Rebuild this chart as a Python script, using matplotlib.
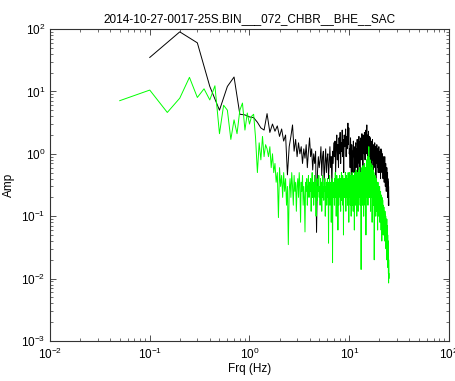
import numpy as np
import matplotlib
matplotlib.use('Agg')
import matplotlib.pyplot as plt
from matplotlib.ticker import LogLocator, FuncFormatter, NullFormatter

plt.rcParams['font.family'] = ['Liberation Sans', 'DejaVu Sans']
plt.rcParams['mathtext.fontset'] = 'custom'
plt.rcParams['mathtext.rm'] = 'Liberation Sans'
plt.rcParams['mathtext.default'] = 'regular'

title = '2014-10-27-0017-25S.BIN___072_CHBR__BHE__SAC'

########### Spectra ###########

# black trace: 0.1 Hz steps, 0.1 .. 25 Hz
df_black = 0.1
amp_black = [
    35, 90, 60, 12, 5.0, 12, 17, 4.3, 4.2, 3.9,
    3.8, 3.2, 2.6, 2.4, 4.4, 2.2, 3.0, 2.3, 2.8, 1.9,
    2.5, 1.6, 2.0, 0.46, 1.3, 1.9, 2.9, 1.1, 1.7, 0.9,
    1.5, 1.0, 1.3, 0.7, 1.2, 0.85, 1.4, 0.6, 1.1, 1.8,
    0.9, 1.2, 0.55, 1.0, 0.7, 1.1, 0.055, 0.5, 0.9, 0.6,
    0.8, 1.3, 0.45, 0.9, 1.1, 0.35, 0.7, 1.2, 0.5, 0.85,
    1.0, 0.4, 0.75, 1.3, 0.6, 0.9, 0.3, 1.1, 0.7, 1.5,
    0.9, 1.6, 0.5, 1.2, 2.0, 0.8, 1.4, 0.6, 1.8, 1.0,
    2.2, 0.7, 1.5, 1.1, 2.4, 0.9, 1.7, 0.5, 2.0, 1.3,
    1.6, 2.5, 0.9, 1.9, 1.2, 2.2, 3.1, 1.4, 2.6, 1.0,
    1.2, 0.6, 1.8, 0.9, 0.3, 1.4, 0.8, 1.1, 0.5, 1.6,
    0.9, 1.3, 0.7, 0.25, 1.0, 1.5, 0.6, 1.2, 0.8, 1.7,
    1.1, 0.5, 1.4, 0.9, 1.9, 0.7, 1.2, 0.3, 1.6, 1.0,
    1.8, 0.8, 1.3, 2.1, 0.9, 1.5, 0.6, 2.0, 1.2, 1.7,
    1.0, 2.2, 1.4, 0.8, 1.9, 1.2, 2.4, 1.0, 1.6, 2.9,
    1.3, 2.0, 0.9, 1.7, 1.1, 2.3, 0.8, 1.5, 1.2, 1.9,
    0.9, 1.4, 1.8, 0.7, 1.2, 1.6, 1.0, 0.25, 1.5, 1.1,
    1.7, 0.8, 1.3, 0.5, 1.0, 1.4, 0.7, 1.2, 0.9, 1.5,
    0.6, 1.1, 1.3, 0.8, 0.4, 1.0, 1.2, 0.7, 1.4, 0.9,
    1.1, 0.6, 0.9, 1.2, 0.5, 1.0, 0.8, 1.3, 0.6, 0.9,
    1.0, 0.5, 0.8, 1.1, 0.7, 0.4, 0.9, 1.2, 0.6, 0.8,
    1.1, 0.7, 0.5, 0.9, 1.0, 0.6, 0.8, 0.4, 0.9, 0.7,
    0.5, 0.8, 0.6, 0.35, 0.7, 0.5, 0.9, 0.4, 0.6, 0.3,
    0.5, 0.7, 0.35, 0.6, 0.25, 0.5, 0.4, 0.6, 0.3, 0.45,
    0.3, 0.5, 0.2, 0.4, 0.25, 0.35, 0.15, 0.3, 0.2, 0.15,
]

# green trace: 0.05 Hz steps, 0.05 .. 25 Hz
df_green = 0.05
amp_green = [
    7.1, 10.5, 4.6, 7.8, 16.8, 8.0, 11, 7.3, 12.3, 2.1,
    6, 5, 1.7, 3.5, 2.1, 5, 6.5, 2.4, 4.5, 3.0,
    4.0, 4.3, 1.8, 0.5, 1.5, 0.8, 1.9, 0.9, 1.4, 1.2,
    0.9, 1.3, 0.6, 1.0, 0.5, 0.7, 0.35, 0.5, 0.095, 0.6,
    0.3, 0.45, 0.2, 0.5, 0.25, 0.4, 0.15, 0.3, 0.035, 0.25,
    0.4, 0.2, 0.5, 0.3, 0.15, 0.45, 0.25, 0.35, 0.12, 0.3,
    0.4, 0.2, 0.5, 0.3, 0.08, 0.35, 0.25, 0.45, 0.15, 0.3,
    0.2, 0.056, 0.35, 0.25, 0.4, 0.15, 0.3, 0.45, 0.2, 0.35,
    0.25, 0.4, 0.12, 0.3, 0.5, 0.2, 0.35, 0.15, 0.3, 0.45,
    0.2, 0.35, 0.1, 0.3, 0.4, 0.18, 0.3, 0.25, 0.45, 0.2,
    0.3, 0.15, 0.4, 0.25, 0.35, 0.12, 0.3, 0.45, 0.2, 0.3,
    0.18, 0.35, 0.25, 0.4, 0.1, 0.3, 0.2, 0.35, 0.15, 0.3,
    0.4, 0.2, 0.3, 0.037, 0.35, 0.25, 0.45, 0.15, 0.3, 0.2,
    0.35, 0.08, 0.3, 0.22, 0.4, 0.018, 0.3, 0.2, 0.35, 0.25,
    0.3, 0.15, 0.4, 0.25, 0.5, 0.2, 0.35, 0.1, 0.3, 0.45,
    0.2, 0.35, 0.25, 0.06, 0.4, 0.3, 0.15, 0.35, 0.25, 0.45,
    0.3, 0.2, 0.4, 0.12, 0.35, 0.25, 0.5, 0.18, 0.3, 0.4,
    0.25, 0.45, 0.15, 0.35, 0.05, 0.3, 0.4, 0.2, 0.35, 0.25,
    0.4, 0.2, 0.5, 0.3, 0.12, 0.35, 0.25, 0.45, 0.2, 0.3,
    0.4, 0.15, 0.35, 0.25, 0.5, 0.2, 0.3, 0.08, 0.35, 0.25,
    0.3, 0.5, 0.2, 0.4, 0.15, 0.35, 0.25, 0.45, 0.1, 0.3,
    0.4, 0.2, 0.35, 0.5, 0.15, 0.3, 0.25, 0.45, 0.12, 0.35,
    0.25, 0.45, 0.2, 0.35, 0.06, 0.3, 0.5, 0.2, 0.4, 0.25,
    0.35, 0.15, 0.45, 0.3, 0.55, 0.2, 0.35, 0.1, 0.4, 0.25,
    0.5, 0.3, 0.2, 0.45, 0.35, 0.12, 0.4, 0.25, 0.55, 0.3,
    0.2, 0.45, 0.3, 0.6, 0.25, 0.4, 0.15, 0.5, 0.3, 0.2,
    0.45, 0.35, 0.014, 0.3, 0.5, 0.2, 0.4, 0.6, 0.25, 0.35,
    0.5, 0.15, 0.4, 0.3, 0.65, 0.2, 0.45, 0.35, 0.1, 0.4,
    0.3, 0.55, 0.2, 0.45, 0.7, 0.25, 0.4, 0.15, 0.5, 0.35,
    0.6, 0.25, 0.45, 0.05, 0.35, 0.55, 0.3, 0.8, 0.2, 0.45,
    0.35, 0.6, 0.25, 0.5, 0.9, 0.3, 0.45, 0.15, 0.55, 0.35,
    0.7, 0.25, 0.5, 1.3, 0.4, 0.3, 0.6, 0.2, 0.45, 0.35,
    0.55, 0.25, 0.8, 0.4, 0.3, 0.6, 0.12, 0.45, 0.35, 0.7,
    0.3, 0.5, 0.2, 0.6, 0.4, 0.25, 0.55, 0.35, 0.08, 0.4,
    0.5, 0.3, 0.65, 0.2, 0.45, 0.35, 0.55, 0.25, 0.4, 0.15,
    0.45, 0.3, 0.5, 0.2, 0.4, 0.02, 0.3, 0.45, 0.25, 0.35,
    0.4, 0.2, 0.45, 0.3, 0.15, 0.35, 0.25, 0.4, 0.1, 0.3,
    0.25, 0.4, 0.18, 0.35, 0.3, 0.12, 0.25, 0.35, 0.2, 0.3,
    0.35, 0.15, 0.3, 0.22, 0.06, 0.28, 0.2, 0.35, 0.15, 0.25,
    0.3, 0.12, 0.25, 0.18, 0.3, 0.1, 0.22, 0.28, 0.15, 0.2,
    0.25, 0.12, 0.3, 0.18, 0.08, 0.22, 0.15, 0.25, 0.1, 0.2,
    0.15, 0.25, 0.08, 0.2, 0.12, 0.22, 0.06, 0.18, 0.14, 0.2,
    0.1, 0.18, 0.12, 0.04, 0.15, 0.2, 0.09, 0.16, 0.12, 0.07,
    0.15, 0.1, 0.18, 0.06, 0.13, 0.09, 0.15, 0.05, 0.11, 0.14,
    0.08, 0.12, 0.06, 0.1, 0.14, 0.05, 0.09, 0.12, 0.07, 0.1,
    0.06, 0.11, 0.04, 0.09, 0.07, 0.12, 0.05, 0.08, 0.1, 0.06,
    0.09, 0.04, 0.07, 0.1, 0.05, 0.08, 0.03, 0.07, 0.09, 0.05,
    0.06, 0.08, 0.02, 0.07, 0.05, 0.09, 0.03, 0.06, 0.04, 0.07,
    0.05, 0.03, 0.06, 0.04, 0.02, 0.05, 0.03, 0.04, 0.015, 0.03,
    0.04, 0.02, 0.03, 0.012, 0.025, 0.0085, 0.02, 0.015, 0.01, 0.012,
]

f_black = df_black * np.arange(1, len(amp_black) + 1)
f_green = df_green * np.arange(1, len(amp_green) + 1)

########### Figure ###########

fig = plt.figure(figsize=(4.56, 3.81), dpi=100)
ax = fig.add_axes([50/456, 40/381, 399/456, 312/381])

ax.loglog(f_black, amp_black, color='k', lw=0.7)
ax.loglog(f_green, amp_green, color=(0, 1, 0), lw=0.7)

ax.set_xlim(1e-2, 1e2)
ax.set_ylim(1e-3, 1e2)

def sci(v, pos):
    return '10$^{%d}$' % int(round(np.log10(v)))

for axis in (ax.xaxis, ax.yaxis):
    axis.set_major_locator(LogLocator(base=10, numticks=10))
    axis.set_minor_locator(LogLocator(base=10, subs=np.arange(2, 10), numticks=10))
    axis.set_major_formatter(FuncFormatter(sci))
    axis.set_minor_formatter(NullFormatter())

ax.tick_params(which='both', direction='in', top=True, right=True,
               labelsize=8.5, colors='#333333', labelcolor='black')
ax.tick_params(which='major', length=4, width=0.6)
ax.tick_params(which='minor', length=2.2, width=0.5)
ax.tick_params(axis='x', pad=4)
for s in ax.spines.values():
    s.set_linewidth(0.8)
    s.set_color('#333333')

ax.set_xlabel('Frq (Hz)', fontsize=8.5, labelpad=1)
ax.set_ylabel('Amp', fontsize=8.5, labelpad=4)
ax.set_title(title, fontsize=8.5, pad=5)

fig.savefig('out.png', dpi=100)
